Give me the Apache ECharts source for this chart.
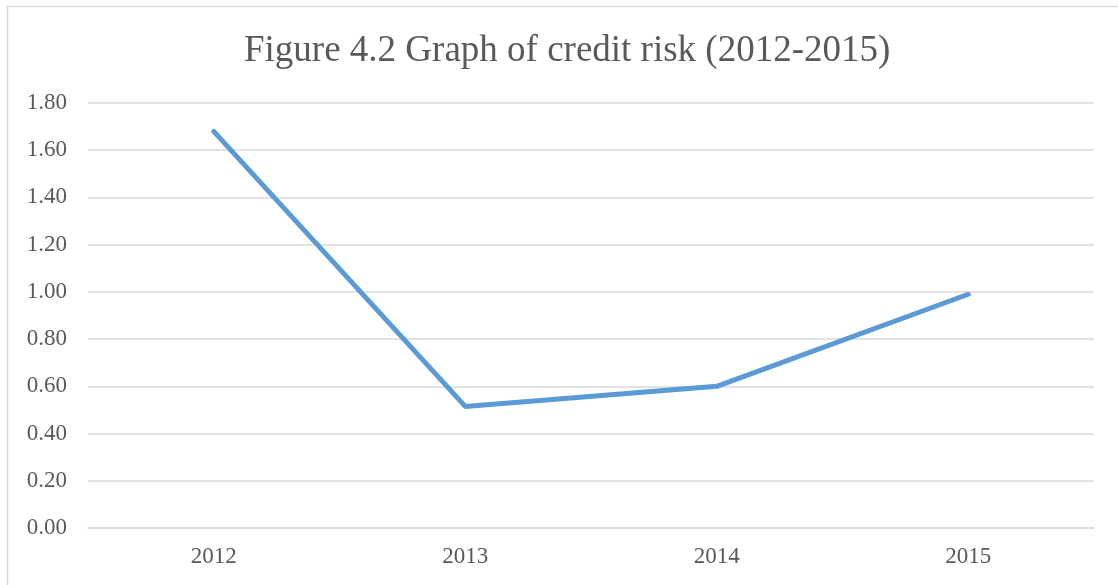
<!DOCTYPE html>
<html>
<head>
<meta charset="utf-8">
<script src="https://cdn.jsdelivr.net/npm/echarts@6/dist/echarts.min.js"></script>
<style>
html,body{margin:0;padding:0;background:#fff;}
#chart{width:1118px;height:585px;}
</style>
</head>
<body>
<div id="chart"></div>
<script>
const titleText = "Figure 4.2 Graph of credit risk (2012-2015)";
const categories = ["2012", "2013", "2014", "2015"];
const creditRisk = [1.68, 0.515, 0.60, 0.99];
const yMin = 0, yMax = 1.8, yStep = 0.2;

const chart = echarts.init(document.getElementById('chart'), null, {renderer: 'canvas'});
const serif = '"Liberation Serif", "Times New Roman", serif';
chart.setOption({
  animation: false,
  backgroundColor: '#ffffff',
  graphic: [{
    type: 'rect',
    shape: {x: 7.5, y: 6.5, width: 1200, height: 700},
    style: {fill: 'none', stroke: '#d9d9d9', lineWidth: 1.5},
    silent: true
  }],
  title: {
    text: titleText,
    left: 239, top: 28,
    textStyle: {fontFamily: serif, fontSize: 37, fontWeight: 'normal', color: '#595959'}
  },
  grid: {left: 88, right: 24, top: 103, bottom: 57, containLabel: false},
  xAxis: {
    type: 'category',
    data: categories,
    boundaryGap: true,
    axisLine: {show: true, lineStyle: {color: '#d9d9d9', width: 1.5}},
    axisTick: {show: false},
    axisLabel: {fontFamily: serif, fontSize: 23, color: '#595959', margin: 17}
  },
  yAxis: {
    type: 'value',
    min: yMin, max: yMax, interval: yStep,
    axisLine: {show: false},
    axisTick: {show: false},
    splitLine: {lineStyle: {color: '#d9d9d9', width: 1.5}},
    axisLabel: {fontFamily: serif, fontSize: 23, color: '#595959', margin: 21,
      formatter: v => v.toFixed(2)}
  },
  series: [{
    type: 'line',
    data: creditRisk,
    symbol: 'none',
    lineStyle: {color: '#5B9BD5', width: 5, cap: 'round', join: 'round'}
  }]
});
</script>
</body>
</html>
